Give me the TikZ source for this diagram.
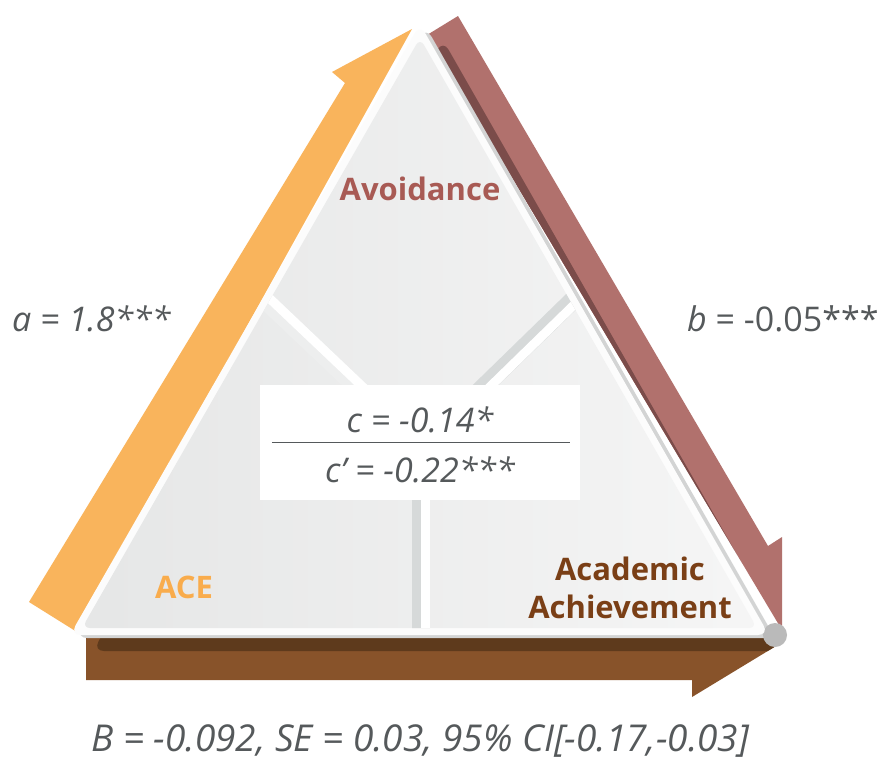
\documentclass[tikz,border=0pt]{standalone}
\usepackage{fontspec}
\setmainfont{Open Sans}
\usepackage{xcolor}
\usepackage{tikz}
\usetikzlibrary{calc}
\definecolor{clrOrange}   {HTML}{F9B45C}
\definecolor{clrRed}      {HTML}{B1716D}
\definecolor{clrRedDark}  {HTML}{7B4C4A}
\definecolor{clrBrown}    {HTML}{88532A}
\definecolor{clrBrownDark}{HTML}{5E3A1C}
\definecolor{clrAvoid}    {HTML}{A85A54}
\definecolor{clrAce}      {HTML}{F9AC4C}
\definecolor{clrAchieve}  {HTML}{7A3F16}
\definecolor{clrText}     {HTML}{55595B}
\definecolor{clrBevel}    {HTML}{D3D4D4}
\definecolor{clrBall}     {HTML}{BABABA}
\definecolor{clrBorder}   {HTML}{FCFCFC}
\definecolor{clrPanelA}   {HTML}{E5E6E6}
\definecolor{clrPanelB}   {HTML}{F6F6F6}
\definecolor{clrDivGray}  {HTML}{D6D9D9}

\begin{document}
\begin{tikzpicture}[x=1pt, y=-1pt,
  lbl/.style={font=\fontsize{31}{38}\selectfont\bfseries,
              align=center, inner sep=0pt},
  stat/.style={font=\fontsize{34}{40}\selectfont\itshape,
               text=clrText, inner sep=0pt},
  divgray/.style={draw=clrDivGray, line width=18pt},
  divwhite/.style={draw=white, line width=9pt},
  tri/.style={rounded corners=11pt},
]
\useasboundingbox[fill=white] (0,0) rectangle (885,763);

\coordinate (apex) at (420,24);
\coordinate (bl)   at (70,635);
\coordinate (br)   at (769,635);

% a path
\fill[clrOrange] (77,632) -- (29,602) -- (345,83) -- (332,72)
  -- (412,29) -- cycle;

% b path
\begin{scope}
  \clip (427,35) -- (458,16) -- (768,546) -- (782,537)
    -- (782,630) -- cycle;
  \fill[clrRed] (400,0) rectangle (800,660);
  \fill[clrRedDark, tri] ([shift={(23,16)}]apex)
    -- ([shift={(23,16)}]bl) -- ([shift={(23,16)}]br) -- cycle;
\end{scope}

% c path
\begin{scope}
  \clip (86,638) -- (772,638) -- (776,646) -- (692,697)
    -- (692,680) -- (86,680) -- cycle;
  \fill[clrBrown] (80,630) rectangle (800,700);
  \fill[clrBrownDark, tri] ([shift={(23,16)}]apex)
    -- ([shift={(23,16)}]bl) -- ([shift={(23,16)}]br) -- cycle;
\end{scope}

% triangle
\fill[clrBevel, tri] ([shift={(6,3)}]apex)
  -- ([shift={(6,3)}]bl) -- ([shift={(6,3)}]br) -- cycle;
\fill[clrBall] (775,635) circle (12pt);
\fill[clrBorder, tri] (apex) -- (bl) -- (br) -- cycle;

\coordinate (ctr)  at (421,448);
\coordinate (divL) at (263,298);
\coordinate (divR) at (576,297);
\coordinate (divB) at (421,640);
\begin{scope}
  \clip[rounded corners=8pt] ([shift={(0,14)}]apex)
    -- ([shift={(12,-7)}]bl) -- ([shift={(-12,-7)}]br) -- cycle;
  \shade[left color=clrPanelA, right color=clrPanelB]
    (60,20) rectangle (780,640);
  \draw[divgray, draw=clrDivGray!45] (ctr) -- (divL);
  \draw[divwhite] ([shift={(3,-3)}]ctr) -- ([shift={(3,-3)}]divL);
  \draw[divgray] (ctr) -- (divR);
  \draw[divwhite] ([shift={(3,3)}]ctr) -- ([shift={(3,3)}]divR);
  \draw[divgray] (ctr) -- (divB);
  \draw[divwhite] ([shift={(4.5,0)}]ctr) -- ([shift={(4.5,0)}]divB);
\end{scope}

\node[lbl, text=clrAvoid, anchor=base] (avoid) at (420,200) {Avoidance};
\node[lbl, text=clrAce, anchor=base] (ace) at (184,598) {ACE};
\node[lbl, text=clrAchieve] (achieve) at (630,588)
  {Academic\\Achievement};

\node[fill=white, minimum width=320pt, minimum height=115pt]
  (cbox) at (420,442.5) {};
\node[stat, anchor=base] (ctot) at (420,432) {c = -0.14*};
\node[stat, anchor=base] (cdir) at (420,482) {c’ = -0.22***};
\draw[clrText, line width=1.5pt]
  ([xshift=12pt]cbox.west) -- ([xshift=-10pt]cbox.east);

\node[stat, anchor=base west] (apath) at (12,331) {a = 1.8***};
\node[stat, anchor=base west] (bpath) at (687,331)
  {b {\upshape = -0.05***}};
\node[stat, anchor=base, font=\fontsize{37}{40}\selectfont\itshape]
  (indirect) at (420,751)
  {B = -0.092, SE = 0.03, 95\% CI[-0.17,-0.03]};
\end{tikzpicture}
\end{document}
